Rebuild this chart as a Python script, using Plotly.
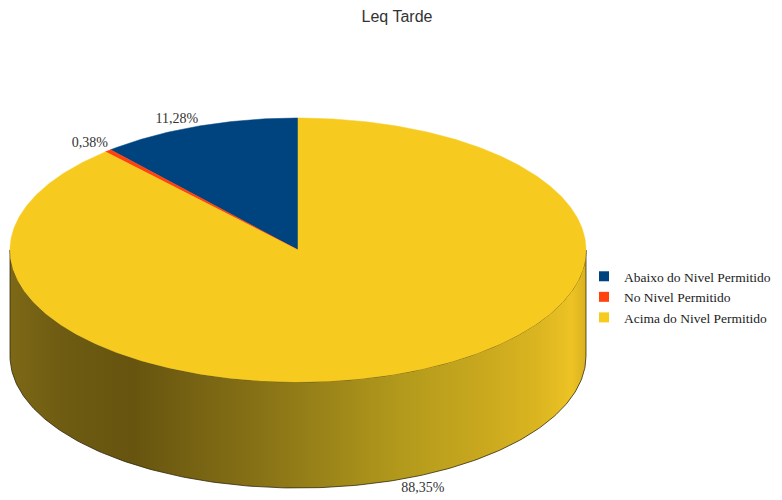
import numpy as np
import plotly.graph_objects as go

# ---- data ----
categories = ["Abaixo do Nivel Permitido", "No Nivel Permitido", "Acima do Nivel Permitido"]
percentages = [11.28, 0.38, 88.35]
labels = ["11,28%", "0,38%", "88,35%"]
title_text = "Leq Tarde"

# ---- style / layout ----
colors_top = ["#00447f", "#ff420e", "#f7ca1f"]
side_scales = [
    [[0, "#00305a"], [1, "#00457f"]],
    [[0, "#a02a08"], [1, "#ff420e"]],
    [[0.0, "#7d6816"], [0.09, "#6f5c12"], [0.21, "#66540f"], [0.42, "#857016"],
     [0.56, "#9d8619"], [0.68, "#b39a1c"], [0.82, "#c9a81e"], [0.92, "#dcb621"],
     [0.975, "#edc324"], [1.0, "#d9b020"]],
]
W, H = 782, 500
OFF = 8  # page body margin in the browser
CX, CY, RX, RY, DEPTH = 298, 250, 288, 132, 106
BOTTOM_LABEL_GAP = 2
START = 90.0  # degrees, slices go counter-clockwise from 12 o'clock

def pt(t_deg, drop=0.0):
    t = np.radians(t_deg)
    return CX + RX * np.cos(t), CY - RY * np.sin(t) + drop

total = sum(percentages)
bounds = [START]
for v in percentages:
    bounds.append(bounds[-1] + 360.0 * v / total)

fig = go.Figure()

# side walls (front half only: 180..360 degrees)
for i, (a, b) in enumerate(zip(bounds[:-1], bounds[1:])):
    for k in range(-1, 3):
        lo, hi = max(a, 180 + 360 * k), min(b, 360 + 360 * k)
        if hi <= lo:
            continue
        ts = np.linspace(lo, hi, 200)
        xt, yt = pt(ts)
        xb, yb = pt(ts[::-1], DEPTH)
        xs = np.concatenate([xt, xb, xt[:1]])
        ys = np.concatenate([yt, yb, yt[:1]])
        fig.add_trace(go.Scatter(
            x=xs, y=ys, mode="lines", fill="toself",
            line=dict(color="rgba(40,32,5,0.75)", width=1),
            fillgradient=dict(type="horizontal", colorscale=side_scales[i]),
            hoverinfo="skip", showlegend=False))

# top face slices
for i, (a, b) in enumerate(zip(bounds[:-1], bounds[1:])):
    ts = np.linspace(a, b, max(3, int((b - a) * 2)))
    xa, ya = pt(ts)
    xs = np.concatenate([[CX], xa, [CX]])
    ys = np.concatenate([[CY], ya, [CY]])
    fig.add_trace(go.Scatter(
        x=xs, y=ys, mode="lines", fill="toself",
        fillcolor=colors_top[i], line=dict(color=colors_top[i], width=0.5),
        hoverinfo="skip", showlegend=False))

# percentage labels
for i, (a, b) in enumerate(zip(bounds[:-1], bounds[1:])):
    m = (a + b) / 2
    s, c = np.sin(np.radians(m)), np.cos(np.radians(m))
    drop = DEPTH + BOTTOM_LABEL_GAP if s < 0 else 0
    x, y = pt(m, drop)
    pos = ("top " if s >= 0 else "bottom ") + ("left" if c < 0 else "right")
    fig.add_trace(go.Scatter(
        x=[x], y=[y], mode="text", text=[labels[i]], textposition=pos,
        textfont=dict(family="Liberation Serif", size=14, color="#333333"),
        hoverinfo="skip", showlegend=False))

# legend entries
for i, name in enumerate(categories):
    fig.add_trace(go.Scatter(
        x=[None], y=[None], mode="markers", name=name,
        marker=dict(symbol="square", size=10, color=colors_top[i])))

fig.update_layout(
    width=W, height=H,
    margin=dict(l=0, r=0, t=0, b=0),
    paper_bgcolor="white", plot_bgcolor="white",
    title=dict(text=title_text, x=(397 - OFF) / W, xanchor="center",
               y=1 - (16 - OFF) / H, yanchor="middle",
               font=dict(family="Liberation Sans", size=16, color="#333333")),
    xaxis=dict(range=[OFF, W + OFF], visible=False, fixedrange=True),
    yaxis=dict(range=[H + OFF, OFF], visible=False, fixedrange=True),
    legend=dict(x=(584 - OFF) / W, xanchor="left", y=1 - (297 - OFF) / H, yanchor="middle",
                font=dict(family="Liberation Serif", size=13.5, color="#222222"),
                bgcolor="rgba(0,0,0,0)", itemwidth=30, tracegroupgap=0),
    showlegend=True,
)

fig.write_html("out.html")
